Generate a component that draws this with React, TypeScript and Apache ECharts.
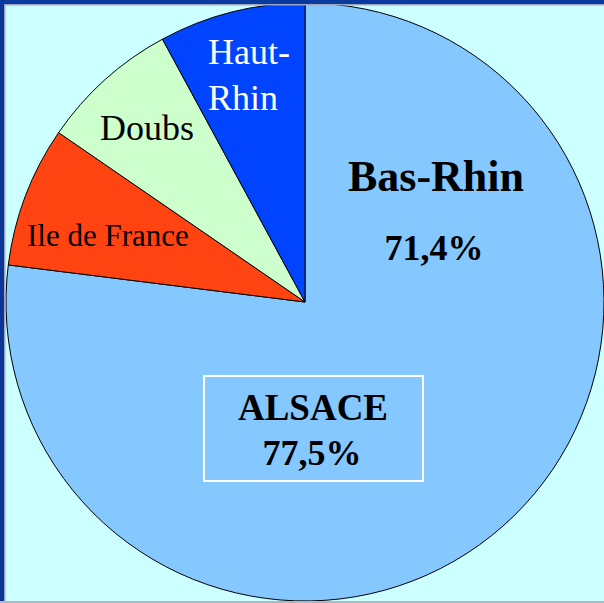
import React, { useEffect, useRef } from "react";
import * as echarts from "echarts";

// Slice order: clockwise from 12 o'clock
const categories = ["Bas-Rhin", "Ile de France", "Doubs", "Haut-Rhin"];
const sliceValues = [76.9, 7.6, 7.5, 7.9];
const sliceColors = ["#85C8FF", "#FF4411", "#CCFFCC", "#0044FF"];

const basRhinPct = "71,4%";
const alsaceLabel = "ALSACE";
const alsacePct = "77,5%";

const SERIF = "'Liberation Serif', 'Times New Roman', serif";

export default function App() {
  const ref = useRef<HTMLDivElement>(null);
  useEffect(() => {
    if (!ref.current) return;
    const chart = echarts.init(ref.current, undefined, { renderer: "svg" });
    chart.setOption({
      animation: false,
      backgroundColor: "#CCFFFF",
      series: [
        {
          type: "pie",
          center: [305, 302],
          radius: 299,
          startAngle: 90,
          clockwise: true,
          silent: true,
          label: { show: false },
          labelLine: { show: false },
          itemStyle: { borderColor: "#000000", borderWidth: 1 },
          data: categories.map((name, i) => ({
            name,
            value: sliceValues[i],
            itemStyle: { color: sliceColors[i] },
          })),
        },
      ],
      graphic: [
        // frame
        { type: "rect", z: 100, shape: { x: 0, y: 0, width: 4, height: 603 }, style: { fill: "#0B3596" } },
        { type: "rect", z: 100, shape: { x: 0, y: 0, width: 604, height: 4 }, style: { fill: "#0B3A9E" } },
        { type: "rect", z: 100, shape: { x: 4, y: 4, width: 1.5, height: 599 }, style: { fill: "#9AA6C4" } },
        { type: "rect", z: 100, shape: { x: 4, y: 4, width: 600, height: 1.5 }, style: { fill: "#9AA6C4" } },
        { type: "rect", z: 100, shape: { x: 0, y: 601, width: 604, height: 2 }, style: { fill: "#B4B8BC" } },
        // labels
        { type: "text", z: 50, style: { text: "Haut-", x: 208, y: 52, align: "left", verticalAlign: "middle", fill: "#FFFFFF", font: `36px ${SERIF}` } },
        { type: "text", z: 50, style: { text: "Rhin", x: 208, y: 98, align: "left", verticalAlign: "middle", fill: "#FFFFFF", font: `36px ${SERIF}` } },
        { type: "text", z: 50, style: { text: categories[2], x: 100, y: 128, align: "left", verticalAlign: "middle", fill: "#000000", font: `36px ${SERIF}` } },
        { type: "text", z: 50, style: { text: categories[1], x: 27, y: 235, align: "left", verticalAlign: "middle", fill: "#000000", font: `31px ${SERIF}` } },
        { type: "text", z: 50, style: { text: categories[0], x: 436, y: 176, align: "center", verticalAlign: "middle", fill: "#000000", font: `bold 44px ${SERIF}` } },
        { type: "text", z: 50, style: { text: basRhinPct, x: 434, y: 248, align: "center", verticalAlign: "middle", fill: "#000000", font: `bold 36px ${SERIF}` } },
        { type: "rect", z: 50, shape: { x: 204, y: 376, width: 219, height: 105 }, style: { fill: "none", stroke: "#FFFFFF", lineWidth: 2 } },
        { type: "text", z: 50, style: { text: alsaceLabel, x: 313, y: 407, align: "center", verticalAlign: "middle", fill: "#000000", font: `bold 37px ${SERIF}` } },
        { type: "text", z: 50, style: { text: alsacePct, x: 312, y: 453, align: "center", verticalAlign: "middle", fill: "#000000", font: `bold 36px ${SERIF}` } },
      ],
    });
    return () => chart.dispose();
  }, []);
  return (
    <div
      ref={ref}
      style={{ position: "fixed", left: 0, top: 0, width: 604, height: 603 }}
    />
  );
}
